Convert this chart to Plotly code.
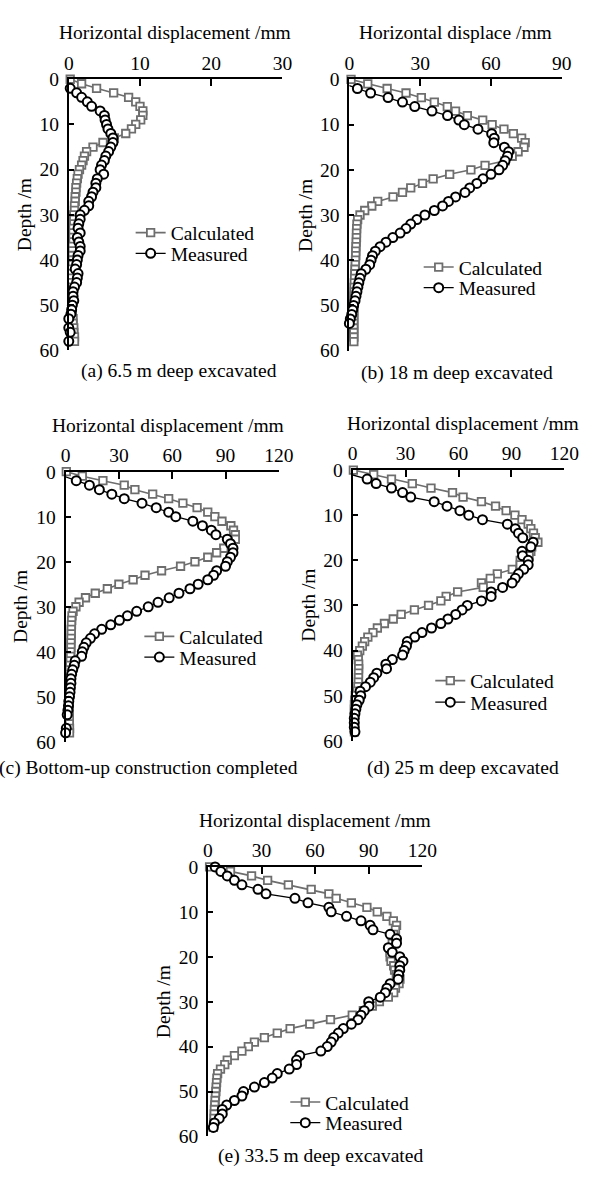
import plotly.graph_objects as go

# ---------------- data ----------------
depth = list(range(0, 59))

calc_a = [0.2, 1.8, 3.9, 6.3, 8.4, 9.4, 10.0, 10.4, 10.4, 10.1, 9.4, 8.8, 8.0, 6.4, 4.8, 3.4, 2.5, 2.2, 2.0, 1.8,
          1.5, 1.3, 1.2, 1.1, 1.0, 1.0, 0.9, 0.9, 0.8, 0.8, 0.7, 0.7, 0.7, 0.6, 0.6, 0.6, 0.6, 0.5, 0.5, 0.5,
          0.5, 0.5, 0.4, 0.4, 0.4, 0.4, 0.4, 0.4, 0.4, 0.4, 0.5, 0.5, 0.5, 0.6, 0.6, 0.7, 0.7, 0.8, 0.8]
meas_a = [-0.7, -0.2, 0.2, 1.1, 1.8, 2.6, 3.2, 4.4, 5.0, 5.1, 5.3, 5.5, 5.9, 6.2, 6.2, 5.9, 5.6, 5.2, 5.0, 4.6,
          4.4, 4.9, 4.0, 3.8, 3.8, 3.4, 3.2, 2.8, 2.8, 2.2, 1.6, 1.6, 1.4, 1.3, 1.6, 1.2, 1.4, 1.6, 1.6, 1.3,
          1.2, 1.1, 0.9, 1.3, 1.2, 1.1, 0.8, 0.6, 0.6, 0.7, 0.5, 0.4, 0.3, 0.0, -0.2, 0.0, 0.2, -0.2, 0.0]

calc_b = [0.7, 7.8, 16, 24, 30.5, 36, 41.5, 45, 50, 56.5, 60.5, 65.5, 69.5, 73, 74.5, 74, 71.5, 69, 66, 57.5,
          51.5, 42.5, 35.5, 31, 26, 22.5, 18.5, 12, 9.5, 6.5, 4.5, 3.5, 3.2, 3.1, 3.0, 3.0, 2.9, 2.8, 2.7, 2.7,
          2.6, 2.5, 2.4, 2.3, 2.2, 2.1, 2.0, 2.0, 1.9, 1.9, 1.9, 1.9, 1.9, 1.9, 1.9, 1.9, 1.9, 1.9, 1.9]
meas_b = [-2.7, -2, 3.4, 9, 16.4, 22.5, 27.7, 35, 41.6, 46.4, 48.7, 54.5, 60.3, 61.4, 61.2, 65.7, 67.5, 67, 66, 65,
          63.4, 60, 56.6, 54, 51, 49, 45, 42, 39.5, 36, 32, 28.6, 26, 24, 21.5, 18.4, 15.5, 13, 11, 9.8,
          9.2, 8.6, 7, 5, 4.5, 4, 3.6, 3.2, 2.8, 2.4, 1.8, 1.4, 1.0, 0.4, 0, -0.2, -0.4, -0.3, -0.4]

calc_c = [0.4, 9.4, 21, 33, 39, 49, 58, 66, 74, 80, 84, 88, 93, 94.5, 95.5, 95.5, 92, 89, 85, 80,
          72.8, 64.7, 54, 44.7, 38, 30, 23.5, 16.7, 11.2, 7.6, 5.8, 4.2, 3.6, 3.4, 3.3, 3.2, 3.2, 3.1, 3.0, 3.0,
          2.9, 2.8, 2.6, 2.4, 2.2, 2.1, 2.1, 2.1, 2.1, 2.1, 2.1, 2.1, 2.1, 2.1, 2.1, 2.1, 2.1, 2.2, 2.2]
meas_c = [-5, -1, 6, 13.4, 19, 26, 33, 43, 51, 58, 62, 71.6, 77, 82, 84.6, 91, 92.8, 94.2, 94.2, 92.8,
          91, 90, 85, 83.3, 80, 74.6, 70, 63.8, 58.3, 52, 46.5, 40, 34.8, 30.3, 25.4, 20.3, 16.3, 14, 11.6, 10.3,
          9.4, 9, 5.4, 4.9, 4, 3.4, 3, 3, 2.7, 2.5, 2.2, 1.8, 1.6, 1.3, 0.9, -0.5, -1.4, 0.4, 0]

calc_d = [0.4, 11.9, 22, 33.8, 44.4, 56.6, 62.6, 73, 81, 87, 92, 96, 99.5, 101, 102.5, 103.5, 105, 101.5, 101, 100,
          95, 95, 90.5, 82, 78, 73, 74, 59.5, 53, 50, 43, 35, 27.5, 23, 18, 14, 11.5, 8.6, 6.8, 5.5,
          4, 2.7, 3.2, 3.4, 3.4, 3.3, 3.3, 3.2, 3.0, 2.5, 1.5, 1.2, 1.0, 1.0, 1.0, 1.0, 1.0, 1.0, 1.0]
meas_d = [-4.6, -0.9, 8.2, 13.3, 22, 28.3, 32.9, 46.2, 53.5, 60.8, 65.8, 73.6, 87.7, 92.2, 94, 96.4, 102.3, 101, 96, 96.3,
          99.5, 99.5, 97, 94, 92.2, 90.4, 85, 78.5, 78.5, 73, 65, 62, 58.4, 54, 50, 44.7, 39.3, 35.2, 31, 30.5,
          29.2, 28.3, 22.5, 18.8, 19.2, 13.7, 11.9, 10, 7.3, 4.2, 4.6, 3.7, 2.4, 1.8, 1.3, 0.9, 0.9, 0.9, 1.3]

calc_e = [0.9, 12.6, 24.4, 33.4, 45, 57.8, 67.7, 71.8, 80.3, 89, 94.8, 100.2, 103.8, 105.6, 105, 104, 103.8, 103.2, 102.5, 102,
          102, 102.5, 104, 104.5, 105.5, 107.5, 107, 105, 104, 101, 96, 92, 87, 80.8, 68.6, 57, 46, 38.8, 31.6, 26,
          22.6, 19, 14.8, 10.8, 9.4, 7, 5.4, 5, 4.8, 4.6, 4.4, 4.2, 4, 3.8, 3.6, 3.5, 3.4, 3.2, 3.0]
meas_e = [4, 7.2, 10.8, 14.8, 19, 28, 32.5, 48.7, 56, 67.7, 69, 77.6, 85.7, 90.8, 92.4, 102, 105.6, 105.6, 101, 103.2,
          107.4, 109.2, 107.4, 107.4, 106.8, 106.5, 102, 100.2, 99.3, 96.5, 90, 90.2, 87.5, 85.7, 84, 80.3, 75.8, 73, 70.4, 69,
          66.8, 63.2, 51.4, 49.6, 49.6, 45.5, 38.8, 36, 31.6, 26, 19.9, 19, 14.8, 10.5, 8, 8, 6.3, 3.6, 3]

panel_calc = [calc_a, calc_b, calc_c, calc_d, calc_e]
panel_meas = [meas_a, meas_b, meas_c, meas_d, meas_e]
x_max = [30, 90, 120, 120, 120]
x_dtick = [10, 30, 30, 30, 30]
x_titles = ["Horizontal displacement /mm", "Horizontal displace /mm", "Horizontal displacement /mm",
            "Horizontal displacement /mm", "Horizontal displacement /mm"]
captions = ["(a) 6.5 m deep excavated", "(b) 18 m deep excavated", "(c) Bottom-up construction completed",
            "(d) 25 m deep excavated", "(e) 33.5 m deep excavated"]
y_ticks = [0, 10, 20, 30, 40, 50, 60]

# ---------------- layout geometry (pixels) ----------------
W, H = 598, 1189
# (x_left, x_right, y_top, y_bottom) of each plot area in pixels
boxes = [(66, 287, 70.5, 346.5),
         (356.3, 576, 70.7, 346.7),
         (62.7, 283.3, 470, 745),
         (359.7, 578.7, 468.3, 744),
         (210, 431.7, 872.3, 1146.7)]
title_pos = [(176, 23), (466, 23), (168.5, 423), (474, 421), (320.5, 825)]
caption_pos = [(180, 367), (468, 370), (148, 772), (474, 772), (326, 1167)]
legend_text = [(173, 227, 248), (471, 262, 283), (182, 638, 659), (483, 683, 705), (333, 1112, 1133)]

FONT = "Liberation Serif"
FS = 19.5
GRAY = "#6e6e6e"

fig = go.Figure()
annotations = []
layout_extra = {}

for i in range(5):
    xl, xr, yt, yb = boxes[i]
    sfx = "" if i == 0 else str(i + 1)
    xa = "x" + sfx
    ya = "y" + sfx
    lc = "legend" + ("" if i == 0 else str(2 * i + 1))
    lm = "legend" + str(2 * i + 2)
    fig.add_trace(go.Scatter(
        x=panel_calc[i], y=depth, xaxis=xa, yaxis=ya, mode="lines+markers", name="Calculated",
        line=dict(color=GRAY, width=1.6),
        marker=dict(symbol="square", size=7.5, color="white", line=dict(color=GRAY, width=1.8)),
        cliponaxis=False, legend=lc))
    fig.add_trace(go.Scatter(
        x=panel_meas[i], y=depth, xaxis=xa, yaxis=ya, mode="lines+markers", name="Measured",
        line=dict(color="black", width=1.3),
        marker=dict(symbol="circle", size=9, color="white", line=dict(color="black", width=2)),
        cliponaxis=False, legend=lm))

    xkey = "xaxis" + sfx
    ykey = "yaxis" + sfx
    layout_extra[xkey] = dict(
        domain=[xl / W, xr / W], anchor=ya, side="top", range=[0, x_max[i]],
        tickmode="linear", tick0=0, dtick=x_dtick[i], ticks="inside", ticklen=7, tickwidth=1.5,
        tickcolor="black", showline=True, linecolor="black", linewidth=1.8, showgrid=False,
        zeroline=False, tickfont=dict(family=FONT, size=FS, color="black"))
    layout_extra[ykey] = dict(
        domain=[1 - yb / H, 1 - yt / H], anchor=xa, range=[60, 0],
        tickmode="array", tickvals=y_ticks, ticks="inside", ticklen=5, tickwidth=1.5,
        tickcolor="black", showline=True, linecolor="black", linewidth=1.8, showgrid=False,
        zeroline=False, tickfont=dict(family=FONT, size=FS, color="black"), ticklabelstandoff=4)

    # axis titles
    tx0, ty0 = title_pos[i]
    annotations.append(dict(text=x_titles[i], xref="paper", yref="paper", x=tx0 / W, y=1 - ty0 / H,
                            xanchor="center", yanchor="middle", showarrow=False,
                            font=dict(family=FONT, size=FS, color="black")))
    annotations.append(dict(text="Depth /m", xref="paper", yref="paper", x=(xl - 46) / W,
                            y=1 - (yt + yb) / 2 / H, textangle=-90,
                            xanchor="center", yanchor="middle", showarrow=False,
                            font=dict(family=FONT, size=FS, color="black")))
    cx, cy = caption_pos[i]
    annotations.append(dict(text=captions[i], xref="paper", yref="paper", x=cx / W, y=1 - cy / H,
                            xanchor="center", yanchor="middle", showarrow=False,
                            font=dict(family=FONT, size=FS, color="black")))

    tx, ty1, ty2 = legend_text[i]
    for key, ty in ((lc, ty1), (lm, ty2)):
        layout_extra[key] = dict(x=(tx - 43) / W, y=1 - ty / H, xanchor="left", yanchor="middle",
                                 bgcolor="rgba(0,0,0,0)", borderwidth=0,
                                 font=dict(family=FONT, size=FS, color="black"))

fig.update_layout(width=W, height=H, autosize=False, margin=dict(l=0, r=0, t=0, b=0),
                  paper_bgcolor="white", plot_bgcolor="white", showlegend=True,
                  annotations=annotations, **layout_extra)

fig.write_html("out.html", post_script="document.body.style.margin='0';")
